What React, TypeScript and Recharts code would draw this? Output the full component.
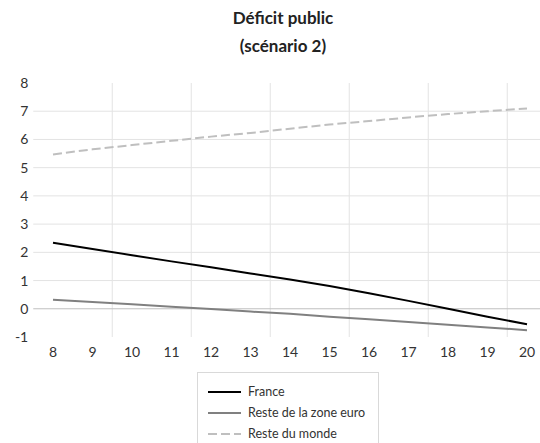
import React from "react";
import { LineChart, Line, XAxis, YAxis, ReferenceLine } from "recharts";

const years = [8, 9, 10, 11, 12, 13, 14, 15, 16, 17, 18, 19, 20];
const france = [2.34, 2.12, 1.9, 1.68, 1.47, 1.25, 1.04, 0.81, 0.55, 0.28, 0.0, -0.28, -0.55];
const resteZoneEuro = [0.32, 0.24, 0.16, 0.07, -0.01, -0.1, -0.18, -0.28, -0.37, -0.47, -0.57, -0.66, -0.76];
const resteDuMonde = [5.47, 5.65, 5.8, 5.95, 6.1, 6.23, 6.38, 6.53, 6.65, 6.78, 6.9, 7.0, 7.1];
const yTicks = [-1, 0, 1, 2, 3, 4, 5, 6, 7, 8];
const hGrid = [1, 2, 3, 4, 5, 6, 7];
const vGrid = [9.5, 11.5, 13.5, 15.5, 17.5, 19.5];

const seriesInfo = [
  { key: "france", name: "France", color: "#000000", width: 2, dash: undefined as string | undefined },
  { key: "euro", name: "Reste de la zone euro", color: "#808080", width: 2, dash: undefined as string | undefined },
  { key: "monde", name: "Reste du monde", color: "#bfbfbf", width: 2, dash: "9 4" },
];

const data = years.map((y, i) => ({
  year: y,
  france: france[i],
  euro: resteZoneEuro[i],
  monde: resteDuMonde[i],
}));

const FONT = "Lato, 'Open Sans', sans-serif";

const LegendBox = () => (
  <div
    style={{
      position: "absolute",
      left: 197,
      top: 372,
      width: 182,
      height: 90,
      border: "1px solid #d9d9d9",
      boxSizing: "border-box",
      paddingTop: 8,
      fontFamily: FONT,
      fontSize: 12.5,
      color: "#333",
    }}
  >
    {seriesInfo.map((s) => (
      <div key={s.key} style={{ display: "flex", alignItems: "center", height: 21 }}>
        <svg width={50} height={10} style={{ display: "block" }}>
          <line x1={10} x2={43} y1={5} y2={5} stroke={s.color} strokeWidth={s.width} strokeDasharray={s.dash} />
        </svg>
        <span>{s.name}</span>
      </div>
    ))}
  </div>
);

export default function App() {
  return (
    <div
      style={{
        position: "absolute",
        left: 0,
        top: 0,
        width: 540,
        height: 443,
        overflow: "hidden",
        background: "#fff",
      }}
    >
      <div
        style={{
          position: "absolute",
          left: 183,
          width: 200,
          top: 4,
          textAlign: "center",
          fontFamily: FONT,
          fontWeight: 700,
          fontSize: 17,
          lineHeight: "28px",
          color: "#222",
        }}
      >
        <div>Déficit public</div>
        <div>(scénario 2)</div>
      </div>
      <div style={{ position: "absolute", left: 0, top: 0 }}>
        <LineChart
          width={560}
          height={443}
          data={data}
          margin={{ top: 83, right: 13.25, left: 3.25, bottom: 0 }}
        >
          <XAxis
            dataKey="year"
            type="number"
            domain={[7.5, 20.5]}
            ticks={years}
            axisLine={false}
            tickLine={false}
            tickMargin={4}
            height={106}
            interval={0}
            tick={{ fill: "#333", fontSize: 14, fontFamily: FONT }}
          />
          <YAxis
            type="number"
            domain={[-1, 8]}
            ticks={yTicks}
            axisLine={false}
            tickLine={false}
            width={30}
            tickMargin={-1}
            interval={0}
            tick={{ fill: "#333", fontSize: 14, fontFamily: FONT }}
          />
          {hGrid.map((v) => (
            <ReferenceLine key={"h" + v} y={v} stroke="#e3e3e3" strokeWidth={1} />
          ))}
          {vGrid.map((v) => (
            <ReferenceLine key={"v" + v} x={v} stroke="#e3e3e3" strokeWidth={1} />
          ))}
          <ReferenceLine y={0} stroke="#bfbfbf" strokeWidth={1} />
          {seriesInfo.map((s) => (
            <Line
              key={s.key}
              dataKey={s.key}
              name={s.name}
              type="linear"
              stroke={s.color}
              strokeWidth={s.width}
              strokeDasharray={s.dash}
              dot={false}
              activeDot={false}
              isAnimationActive={false}
            />
          ))}
        </LineChart>
      </div>
      <LegendBox />
    </div>
  );
}
